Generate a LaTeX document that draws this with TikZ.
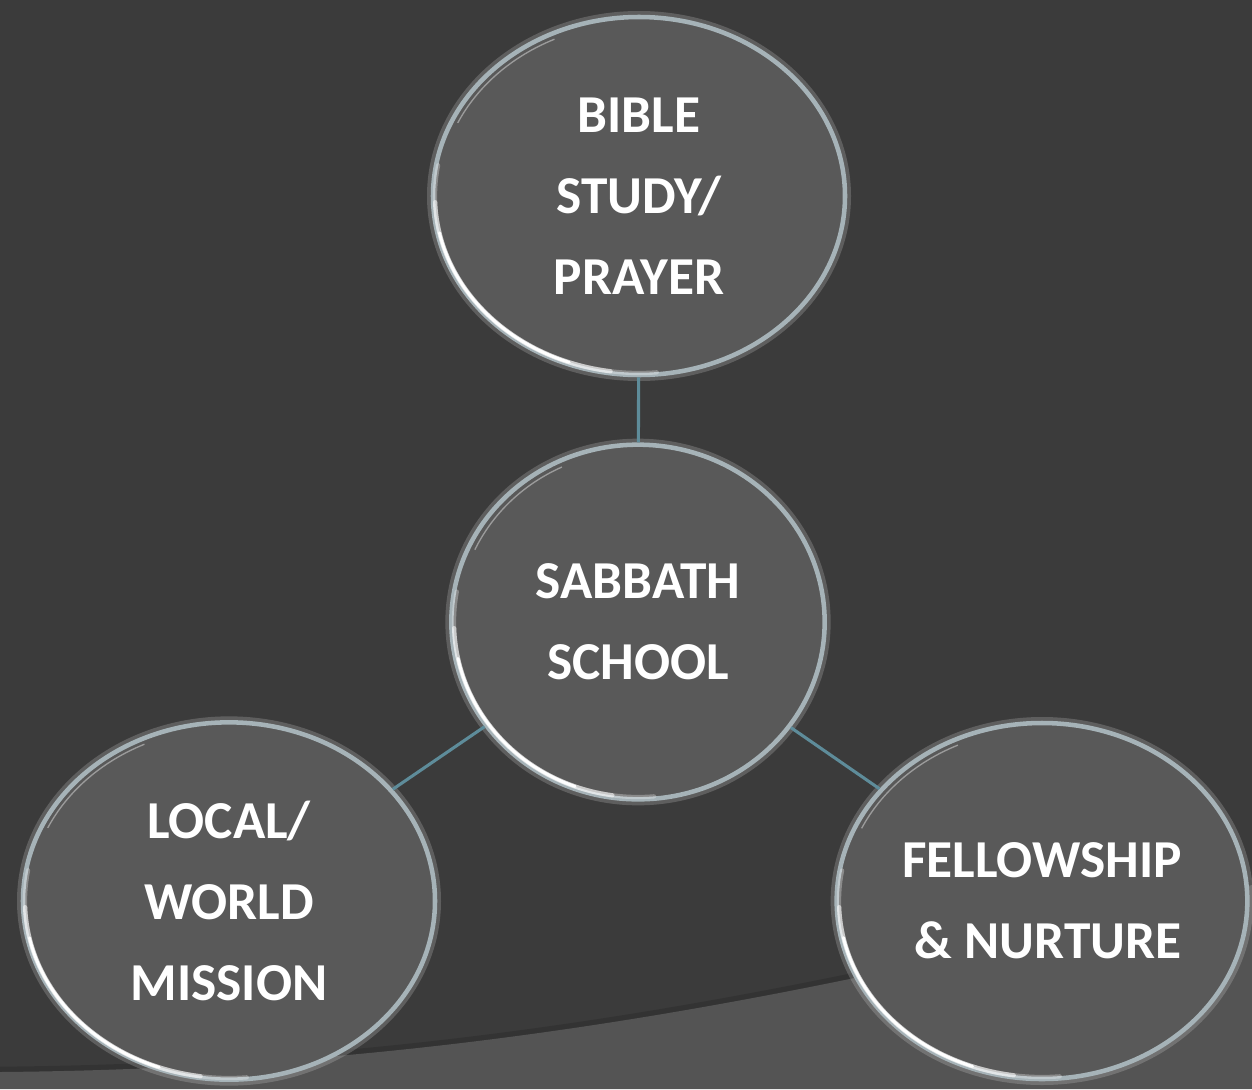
\documentclass[tikz,border=0pt]{standalone}
\usepackage{fontspec}
\setmainfont{Carlito}
\usetikzlibrary{shapes.geometric}

\definecolor{bgdark}{HTML}{3B3B3B}
\definecolor{bandgray}{HTML}{545454}
\definecolor{bubblefill}{HTML}{595959}
\definecolor{rimgray}{HTML}{A6B3B8}
\definecolor{linkteal}{HTML}{5E8C9A}

\tikzset{every picture/.style={line width=0.75pt}}
\tikzset{
  bubble/.style={ellipse, fill=bubblefill, draw=rimgray, line width=3.4pt, inner sep=0pt,
    text=white, align=center, font=\fontsize{40}{60.75}\bfseries\selectfont,
    preaction={draw=white, draw opacity=0.18, line width=9pt}},
  link/.style={draw=linkteal, line width=2.3pt},
  shine/.style={draw=white, line width=2.2pt, line cap=round},
  shinesoft/.style={draw=white, draw opacity=#1, line width=3.2pt, line cap=round},
}

\begin{document}
\begin{tikzpicture}[x=0.75pt,y=0.75pt,yscale=-1,xscale=1]
    \useasboundingbox (0,0) rectangle (1252,1089);

    %Shape: Background
    \fill[bgdark] (0,0) rectangle (1252,1089);
    %Shape: Bottom band
    \draw[black, draw opacity=0.12, line width=5pt] (0,1070) .. controls (450,1066) and (800,998) .. (1252,883);
    \fill[bandgray] (0,1072) .. controls (450,1068) and (800,1000) .. (1252,885) -- (1252,1089) -- (0,1089) -- cycle;

    % Bubble Nodes
    \node[bubble, minimum width=309pt, minimum height=268.5pt] (bible) at (639,196) {BIBLE\\STUDY/\\PRAYER};
    \node[bubble, minimum width=280pt, minimum height=266pt] (sabbath) at (638,622) {SABBATH\\SCHOOL};
    \node[bubble, minimum width=309pt, minimum height=268pt] (mission) at (229,901) {LOCAL/\\WORLD\\MISSION};
    \node[bubble, minimum width=308pt, minimum height=267pt] (fellowship) at (1042,901) {FELLOWSHIP\\\ \& NURTURE};

    % Links
    \draw[link] (sabbath) -- (bible);
    \draw[link] (sabbath) -- (mission);
    \draw[link] (sabbath) -- (fellowship);

    % Shine on the rims
    \foreach \n/\rx/\ry in {bible/204/177, sabbath/184/175, mission/204/177, fellowship/203/176} {
      \draw[shinesoft=0.3] (\n.center) ++(190:{\rx} and {\ry}) arc[start angle=190, end angle=85, x radius=\rx, y radius=\ry];
      \draw[shinesoft=0.55] (\n.center) ++(178:{\rx} and {\ry}) arc[start angle=178, end angle=98, x radius=\rx, y radius=\ry];
      \draw[shine] (\n.center) ++(168:{\rx} and {\ry}) arc[start angle=168, end angle=110, x radius=\rx, y radius=\ry];
      \draw[white, draw opacity=0.4, line width=1pt] (\n.center) ++(205:{\rx-4} and {\ry-4}) arc[start angle=205, end angle=245, x radius=\rx-4, y radius=\ry-4];
    }
\end{tikzpicture}
\end{document}
